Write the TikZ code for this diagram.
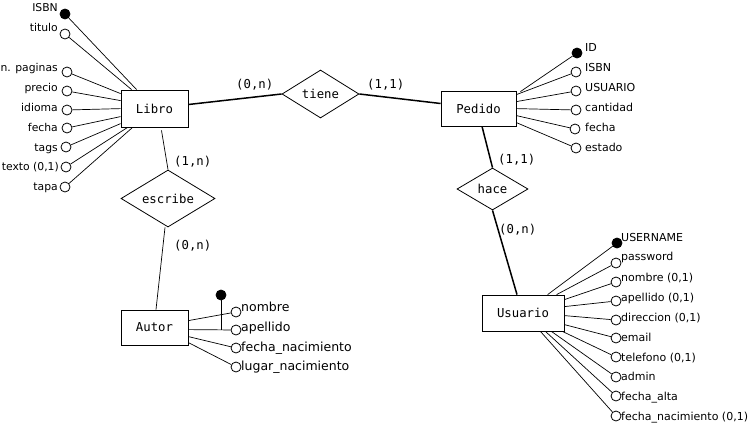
\documentclass[tikz,border=0pt]{standalone}
\usepackage{fontspec}
\setmainfont{DejaVu Sans}
\newfontfamily\erdmono{DejaVu Sans Mono}
\usetikzlibrary{shapes.geometric,calc}

\tikzset{
  entity/.style={draw, line width=0.8pt, rectangle, inner sep=0pt,
    font=\erdmono\fontsize{12.3}{14}\selectfont},
  relation/.style={draw, line width=0.8pt, diamond, inner sep=0pt, aspect=1.6,
    font=\erdmono\fontsize{12.3}{14}\selectfont},
  attr/.style={draw, circle, line width=0.8pt, minimum size=10pt, inner sep=0pt},
  keyattr/.style={attr, fill=black},
  link/.style={line width=0.7pt},
  strong/.style={line width=1.5pt},
  card/.style={anchor=base west, inner sep=0pt,
    font=\erdmono\fontsize{12.3}{14}\selectfont},
  labL/.style={anchor=base east, inner sep=0pt, font=\fontsize{10.8}{13}\selectfont},
  labP/.style={anchor=base west, inner sep=0pt, font=\fontsize{11}{13}\selectfont},
  labA/.style={anchor=base west, inner sep=0pt, font=\fontsize{12.5}{14}\selectfont},
  labU/.style={anchor=base west, inner sep=0pt, font=\fontsize{11}{13}\selectfont},
}

\begin{document}
\begin{tikzpicture}[x=1pt, y=-1pt]
\useasboundingbox (0,0) rectangle (751,423);

% entities
\node[entity, minimum width=67pt, minimum height=37pt] (Libro)   at (154.5,108.5) {Libro};
\node[entity, minimum width=75pt, minimum height=35pt] (Pedido)  at (478.5,108.5) {Pedido};
\node[entity, minimum width=67pt, minimum height=35pt] (Autor)   at (154.5,327.5) {Autor};
\node[entity, minimum width=82pt, minimum height=36pt] (Usuario) at (523,313) {Usuario};

% relationships
\node[relation, minimum width=77pt, minimum height=48pt] (tiene)   at (320.5,94) {tiene};
\node[relation, minimum width=71pt, minimum height=42pt] (hace)    at (492.5,189) {hace};
\node[relation, minimum width=94pt, minimum height=57pt] (escribe) at (168,198.5) {escribe};

% relationship lines
\draw[strong] ($(Libro.east)+(0,-4)$) -- (tiene.west);
\draw[strong] (tiene.east) -- ($(Pedido.west)+(0,-5)$);
\draw[strong] ($(Pedido.south)+(3.5,0)$) -- (hace.north);
\draw[strong] (hace.south) -- ($(Usuario.north)+(-6,0)$);
\draw[link] ($(Libro.south)+(7,3)$) -- (escribe.north);
\draw[link] ($(escribe.south)+(-3,0)$) -- ($(Autor.north)+(1.5,0)$);

% cardinalities
\node[card] (c1) at (236,88)  {(0,n)};
\node[card] (c2) at (367,88)  {(1,1)};
\node[card] (c3) at (174,165) {(1,n)};
\node[card] (c4) at (174,249) {(0,n)};
\node[card] (c5) at (498,163) {(1,1)};
\node[card] (c6) at (499,233) {(0,n)};

% Libro attributes
\node[keyattr] (l1) at (65,14)  {};
\node[attr]    (l2) at (65,34)  {};
\node[attr]    (l3) at (67,72)  {};
\node[attr]    (l4) at (67,91)  {};
\node[attr]    (l5) at (67,110) {};
\node[attr]    (l6) at (67,128) {};
\node[attr]    (l7) at (66,147) {};
\node[attr]    (l8) at (66,167) {};
\node[attr]    (l9) at (65,187) {};
\node[labL] (tl1) at (58,11)  {ISBN};
\node[labL] (tl2) at (58,31)  {titulo};
\node[labL] (tl3) at (58,71)  {n. paginas};
\node[labL] (tl4) at (58,91)  {precio};
\node[labL] (tl5) at (58,111) {idioma};
\node[labL] (tl6) at (58,131) {fecha};
\node[labL] (tl7) at (58,151) {tags};
\node[labL] (tl8) at (59,170) {texto (0,1)};
\node[labL] (tl9) at (58,190) {tapa};
\draw[link] (l1) -- ($(Libro.north west)+(16,0)$);
\draw[link] (l2) -- ($(Libro.north west)+(11,0)$);
\draw[link] (l3) -- ($(Libro.north west)+(0,4)$);
\draw[link] (l4) -- ($(Libro.north west)+(0,11)$);
\draw[link] (l5) -- ($(Libro.north west)+(0,19)$);
\draw[link] (l6) -- ($(Libro.north west)+(0,27)$);
\draw[link] (l7) -- ($(Libro.north west)+(0,34)$);
\draw[link] (l8) -- ($(Libro.south west)+(7,0)$);
\draw[link] (l9) -- ($(Libro.south west)+(12,0)$);

% Pedido attributes
\node[keyattr] (p1) at (577,53)  {};
\node[attr]    (p2) at (576,72)  {};
\node[attr]    (p3) at (576,91)  {};
\node[attr]    (p4) at (576,110) {};
\node[attr]    (p5) at (575,129) {};
\node[attr]    (p6) at (576,148) {};
\node[labP] (tp1) at (585,51)  {ID};
\node[labP] (tp2) at (585,71)  {ISBN};
\node[labP] (tp3) at (585,91)  {USUARIO};
\node[labP] (tp4) at (585,111) {cantidad};
\node[labP] (tp5) at (585,131) {fecha};
\node[labP] (tp6) at (585,151) {estado};
\draw[link] (p1) -- ($(Pedido.north east)+(4,1)$);
\draw[link] (p2) -- ($(Pedido.north east)+(0,4)$);
\draw[link] (p3) -- ($(Pedido.north east)+(0,11)$);
\draw[link] (p4) -- ($(Pedido.north east)+(0,18)$);
\draw[link] (p5) -- ($(Pedido.north east)+(0,25)$);
\draw[link] (p6) -- ($(Pedido.north east)+(0,32)$);

% Autor attributes (nombre + apellido form the key)
\node[keyattr] (akey) at (221,295) {};
\node[attr] (a1) at (236,312) {};
\node[attr] (a2) at (236,330) {};
\node[attr] (a3) at (236,348) {};
\node[attr] (a4) at (236,367) {};
\node[labA] (ta1) at (241,311) {nombre};
\node[labA] (ta2) at (241,331) {apellido};
\node[labA] (ta3) at (241,351) {fecha\_nacimiento};
\node[labA] (ta4) at (241,370) {lugar\_nacimiento};
\draw[link] ($(Autor.north east)+(0,11)$) -- (a1);
\draw[link] ($(Autor.north east)+(0,20)$) -- (a2);
\draw[link] ($(Autor.north east)+(0,27)$) -- (a3);
\draw[link] ($(Autor.north east)+(0,33)$) -- (a4);
\draw[link] (akey) -- (akey |- a2);

% Usuario attributes
\node[keyattr] (u1)  at (617,243) {};
\node[attr]    (u2)  at (616,263) {};
\node[attr]    (u3)  at (616,282) {};
\node[attr]    (u4)  at (616,301) {};
\node[attr]    (u5)  at (616,320) {};
\node[attr]    (u6)  at (616,338) {};
\node[attr]    (u7)  at (616,357) {};
\node[attr]    (u8)  at (616,377) {};
\node[attr]    (u9)  at (616,396) {};
\node[attr]    (u10) at (616,416) {};
\node[labU] (tu1)  at (621,241) {USERNAME};
\node[labU] (tu2)  at (621,260) {password};
\node[labU] (tu3)  at (621,281) {nombre (0,1)};
\node[labU] (tu4)  at (621,301) {apellido (0,1)};
\node[labU] (tu5)  at (621,321) {direccion (0,1)};
\node[labU] (tu6)  at (621,341) {email};
\node[labU] (tu7)  at (621,361) {telefono (0,1)};
\node[labU] (tu8)  at (621,380) {admin};
\node[labU] (tu9)  at (621,400) {fecha\_alta};
\node[labU] (tu10) at (621,420) {fecha\_nacimiento (0,1)};
\draw[link] ($(Usuario.north west)+(66,0)$) -- (u1);
\draw[link] ($(Usuario.north west)+(75,0)$) -- (u2);
\draw[link] ($(Usuario.north east)+(0,5)$)  -- (u3);
\draw[link] ($(Usuario.north east)+(0,12)$) -- (u4);
\draw[link] ($(Usuario.north east)+(0,21)$) -- (u5);
\draw[link] ($(Usuario.north east)+(0,30)$) -- (u6);
\draw[link] ($(Usuario.south east)+(-2,0)$)  -- (u7);
\draw[link] ($(Usuario.south east)+(-13,0)$) -- (u8);
\draw[link] ($(Usuario.south east)+(-19,0)$) -- (u9);
\draw[link] ($(Usuario.south east)+(-24,0)$) -- (u10);
\end{tikzpicture}
\end{document}
